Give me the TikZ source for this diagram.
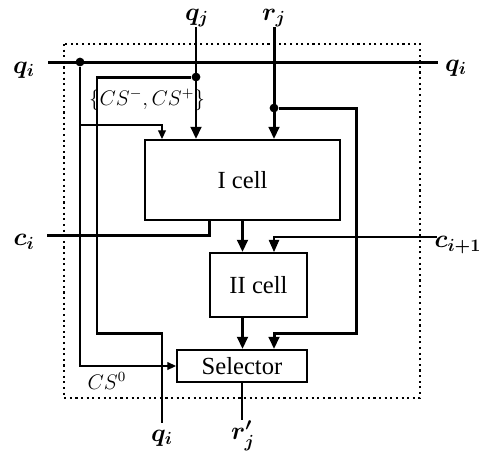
\documentclass[tikz,border=0pt]{standalone}
\usepackage{fontspec}
\setmainfont{Liberation Serif}
\usetikzlibrary{arrows.meta}

\begin{document}
\begin{tikzpicture}[
    x=0.02cm, y=-0.02cm,
    bus/.style={line width=1.7pt},
    wire/.style={line width=0.7pt},
    tip/.style={-{Triangle[length=7pt, width=6pt]}},
    smalltip/.style={-{Triangle[length=5pt, width=4.5pt]}},
    blk/.style={draw, line width=1.1pt, font=\fontsize{14}{16}\selectfont, inner sep=0pt},
    lbl/.style={font=\Large\boldmath},
    cs/.style={font=\large},
    dot/.style={circle, fill, inner sep=0pt, minimum size=5pt},
]
\useasboundingbox (0,0) rectangle (482,451);

% cell border
\draw[line width=1.2pt, dotted] (64,44) rectangle (420,398);

% the three blocks
\node[blk, minimum width=3.9cm, minimum height=1.6cm] (icell) at (242.5,180) {I cell};
\node[blk, minimum width=1.94cm, minimum height=1.28cm] (iicell) at (258.5,285) {II cell};
\node[blk, minimum width=2.6cm, minimum height=0.64cm] (sel) at (242,366) {Selector};

% port ends
\coordinate (qiW) at (48,62);
\coordinate (qiE) at (438,62);
\coordinate (qjin) at (196,27);
\coordinate (rjin) at (274,27);
\coordinate (ciin) at (47,235);
\coordinate (cin1) at (437,237);
\coordinate (qiout) at (162,423);
\coordinate (rout) at (242,420);

% port labels
\node[lbl] (lqiW) at (24,70) {$q_i$};
\node[lbl] (lqiE) at (456,68) {$q_i$};
\node[lbl] (lqj) at (197,18) {$q_j$};
\node[lbl] (lrj) at (274,18) {$r_j$};
\node[lbl] (lci) at (24,242) {$c_i$};
\node[lbl] (lci1) at (458,245) {$c_{i+1}$};
\node[lbl] (lqo) at (162,438) {$q_i$};
\node[lbl] (lro) at (243,436) {$r'_j$};
\node[cs] (lcs) at (147,100) {$\{CS^-,CS^+\}$};
\node[cs] (lcs0) at (107,381) {$CS^0$};

% q_i bus and its tap
\draw[bus] (qiW) -- (qiE);
\node[dot] (di) at (80,62) {};
\draw[bus] (di) -- (80,125);
\draw[wire, smalltip] (80,125) -| (icell.north west -| qiout);
\draw[wire, smalltip] (80,125) |- (sel.west);

% q_j
\draw[bus, tip] (qjin) -- (qjin |- icell.north);
\node[dot] (dj) at (196,77) {};
\draw[bus] (dj) -| (97,333) -| (qiout);

% r_j
\draw[bus, tip] (rjin) -- (rjin |- icell.north);
\node[dot] (dr) at (rjin |- 0,108) {};
\draw[bus, tip] (dr) -| (356,333) -| (sel.north -| rjin);

% carries
\draw[bus] (ciin) -| (iicell.north west |- icell.south);
\draw[wire, tip] (cin1) -| (iicell.north -| rjin);

% between the blocks
\draw[bus, tip] (icell.south) -- (icell.south |- iicell.north);
\draw[bus, tip] (icell.south |- iicell.south) -- (icell.south |- sel.north);
\draw[wire] (sel.south) -- (rout);
\end{tikzpicture}
\end{document}
